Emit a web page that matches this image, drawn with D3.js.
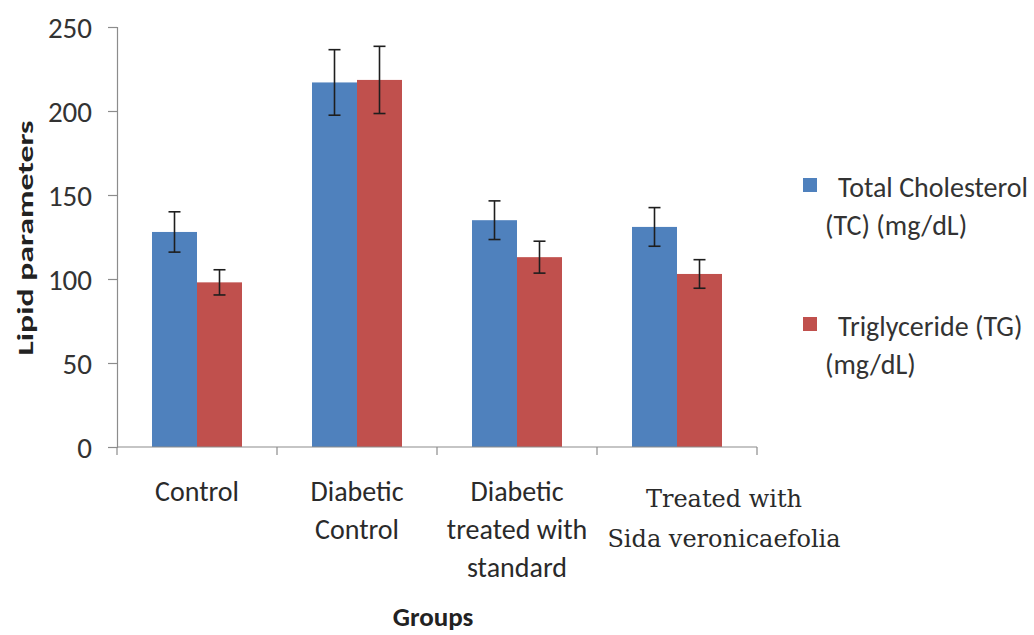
<!DOCTYPE html>
<html>
<head>
<meta charset="utf-8">
<script src="https://cdn.jsdelivr.net/npm/d3@7"></script>
<style>
  html, body { margin: 0; padding: 0; background: #fff; }
  svg { display: block; }
  .sans { font-family: Carlito, Lato, "Open Sans", sans-serif; fill: #333; }
</style>
</head>
<body>
<svg id="chart" width="1034" height="635"></svg>
<script>
const categories = ["Control", "Diabetic Control", "Diabetic treated with standard", "Treated with Sida veronicaefolia"];
const categoryLines = [["Control"], ["Diabetic", "Control"], ["Diabetic", "treated with", "standard"], ["Treated with", "Sida veronicaefolia"]];
const seriesNames = ["Total Cholesterol (TC) (mg/dL)", "Triglyceride (TG) (mg/dL)"];
const legendLines = [["Total Cholesterol", "(TC) (mg/dL)"], ["Triglyceride (TG)", "(mg/dL)"]];
const tcValues = [128, 217, 135, 131];
const tcErrors = [12, 19.5, 11.5, 11.5];
const tgValues = [98, 218.5, 113, 103];
const tgErrors = [7.5, 20, 9.5, 8.5];
const yTicks = [0, 50, 100, 150, 200, 250];
const colors = ["#4F81BD", "#C0504D"];
const yTitle = "Lipid parameters";
const xTitle = "Groups";

const svg = d3.select("#chart");
const plot = { left: 117, right: 757, top: 27, bottom: 447 };

const x = d3.scaleBand().domain(categories).range([plot.left, plot.right])
  .paddingInner(0.4375).paddingOuter(0.21875);
const xs = d3.scaleBand().domain([0, 1]).range([0, x.bandwidth()]);
const y = d3.scaleLinear().domain([0, 250]).range([plot.bottom, plot.top]);

const series = [
  { values: tcValues, errors: tcErrors },
  { values: tgValues, errors: tgErrors }
];

// bars
series.forEach((s, si) => {
  svg.append("g").selectAll("rect")
    .data(categories)
    .join("rect")
    .attr("x", c => x(c) + xs(si))
    .attr("y", (c, i) => y(s.values[i]))
    .attr("width", xs.bandwidth())
    .attr("height", (c, i) => y(0) - y(s.values[i]))
    .attr("fill", colors[si]);
});

// error bars
series.forEach((s, si) => {
  const g = svg.append("g").attr("stroke", "#1e1e1e").attr("stroke-width", 1.6);
  categories.forEach((c, i) => {
    const cx = x(c) + xs(si) + xs.bandwidth() / 2;
    const hi = y(s.values[i] + s.errors[i]);
    const lo = y(s.values[i] - s.errors[i]);
    g.append("line").attr("x1", cx).attr("x2", cx).attr("y1", hi).attr("y2", lo);
    g.append("line").attr("x1", cx - 6).attr("x2", cx + 6).attr("y1", hi).attr("y2", hi);
    g.append("line").attr("x1", cx - 6).attr("x2", cx + 6).attr("y1", lo).attr("y2", lo);
  });
});

// y axis
const yAxis = d3.axisLeft(y).tickValues(yTicks).tickSize(9).tickPadding(16);
const yg = svg.append("g").attr("transform", `translate(${plot.left},0)`).call(yAxis);
yg.select(".domain").attr("stroke", "#8c8c8c").attr("stroke-width", 1.2);
yg.selectAll(".tick line").attr("stroke", "#8c8c8c").attr("stroke-width", 1.2);
yg.selectAll(".tick text").attr("class", "sans").style("font-size", "29px").attr("dy", "0.36em");

// x axis (ticks at band boundaries)
svg.append("line").attr("x1", plot.left).attr("x2", plot.right)
  .attr("y1", y(0)).attr("y2", y(0)).attr("stroke", "#8c8c8c").attr("stroke-width", 1.2);
const boundaries = categories.map(c => x(c) - (x.step() - x.bandwidth()) / 2).concat([plot.right]);
svg.append("g").selectAll("line").data(boundaries).join("line")
  .attr("x1", d => d).attr("x2", d => d)
  .attr("y1", y(0)).attr("y2", y(0) + 8)
  .attr("stroke", "#8c8c8c").attr("stroke-width", 1.2);

// category labels
const labelOffsets = [0, 0, 0, 47];
categoryLines.forEach((lines, i) => {
  const serif = i === 3;
  const t = svg.append("text")
    .attr("class", serif ? null : "sans")
    .attr("text-anchor", "middle")
    .style("font-size", serif ? "24px" : "28px")
    .style("font-family", serif ? "'DejaVu Serif', serif" : null)
    .style("fill", "#2a2a2a");
  lines.forEach((ln, j) => {
    t.append("tspan")
      .attr("x", x(categories[i]) + x.bandwidth() / 2 + labelOffsets[i])
      .attr("y", serif ? 507 + j * 40 : 501 + j * 38)
      .text(ln);
  });
});

// axis titles
svg.append("text").attr("class", "sans")
  .attr("text-anchor", "middle")
  .attr("transform", "translate(33,238) rotate(-90)")
  .style("font-size", "22px").style("font-weight", "bold").style("fill", "#222")
  .attr("textLength", 235).attr("lengthAdjust", "spacingAndGlyphs")
  .text(yTitle);

svg.append("text").attr("class", "sans")
  .attr("text-anchor", "middle")
  .attr("x", (plot.left + plot.right) / 2 - 4).attr("y", 626)
  .style("font-size", "27px").style("font-weight", "bold").style("fill", "#222")
  .text(xTitle);

// legend
const legendY = [178, 317];
legendLines.forEach((lines, i) => {
  svg.append("rect").attr("x", 803).attr("y", legendY[i]).attr("width", 14).attr("height", 14)
    .attr("fill", colors[i]);
  const t = svg.append("text").attr("class", "sans").style("font-size", "28px");
  t.append("tspan").attr("x", 838).attr("y", legendY[i] + 19).text(lines[0]);
  t.append("tspan").attr("x", 825).attr("y", legendY[i] + 57).text(lines[1]);
});
</script>
</body>
</html>
